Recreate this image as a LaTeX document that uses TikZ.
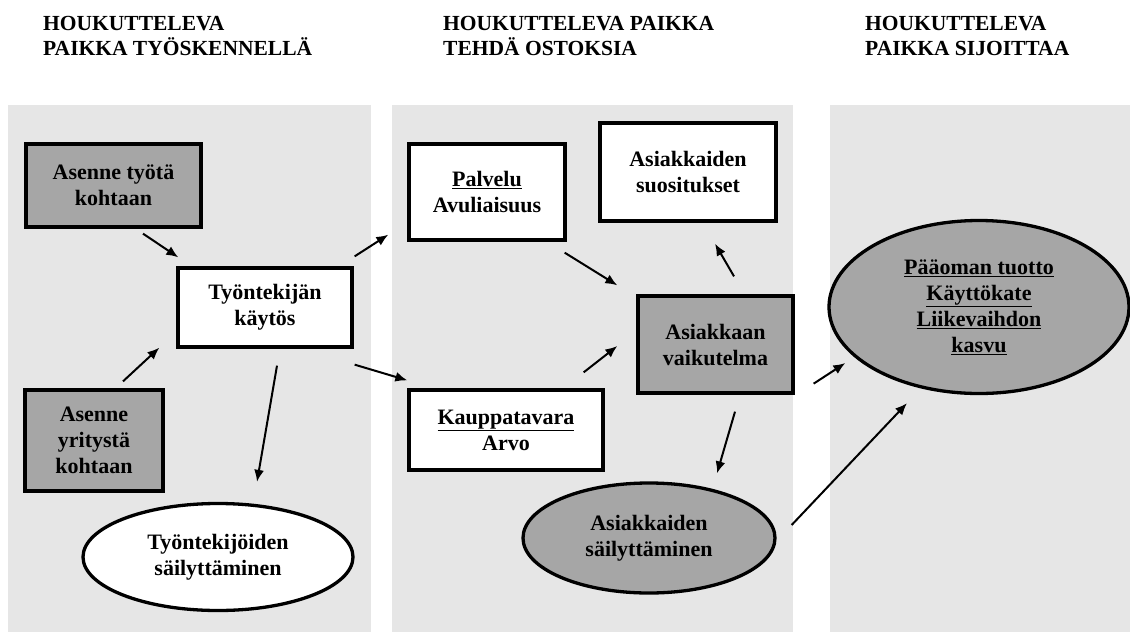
\documentclass[tikz,border=0pt]{standalone}
\usepackage{fontspec}
\setmainfont{Liberation Serif}
\usetikzlibrary{shapes.geometric,arrows.meta,calc}
\definecolor{panelgrey}{RGB}{230,230,230}
\definecolor{boxgrey}{RGB}{166,166,166}
\tikzset{
  panel/.style={fill=panelgrey, draw=none},
  heading/.style={anchor=base west, align=left, inner sep=0pt, font=\bfseries\fontsize{21.5}{25}\selectfont},
  whitebox/.style={draw=black, line width=3.3pt, fill=white, align=center, inner sep=0pt, font=\bfseries\fontsize{22}{26}\selectfont},
  greybox/.style={whitebox, fill=boxgrey},
  whiteoval/.style={whitebox, ellipse},
  greyoval/.style={greybox, ellipse},
  arr/.style={line width=2pt, -{Latex[length=12pt,width=10pt]}}
}
\begin{document}
\begin{tikzpicture}[x=1pt, y=-1pt]
\useasboundingbox (0,0) rectangle (1130,632);
\fill[white] (0,0) rectangle (1130,632);
% panels
\fill[panel] (8,105) rectangle (371,632);
\fill[panel] (392,105) rectangle (793,632);
\fill[panel] (830,105) rectangle (1130,632);
% headings
\node[heading] (h1) at (43,55) {HOUKUTTELEVA\\PAIKKA TYÖSKENNELLÄ};
\node[heading] (h2) at (443,55) {HOUKUTTELEVA PAIKKA\\TEHDÄ OSTOKSIA};
\node[heading] (h3) at (865,55) {HOUKUTTELEVA\\PAIKKA SIJOITTAA};
% nodes
\node[greybox, minimum width=175pt, minimum height=83pt] (a1) at (113.5,185.5) {Asenne työtä\\kohtaan};
\node[whitebox, minimum width=174pt, minimum height=79pt] (tk) at (265,307.5) {Työntekijän\\käytös};
\node[greybox, minimum width=138pt, minimum height=101pt] (a2) at (94,440.5) {Asenne\\yritystä\\kohtaan};
\node[whiteoval, minimum width=270pt, minimum height=107pt] (ts) at (218,557) {Työntekijöiden\\säilyttäminen};
\node[whitebox, minimum width=156pt, minimum height=96pt] (pa) at (487,192) {\underline{Palvelu}\\Avuliaisuus};
\node[whitebox, minimum width=176pt, minimum height=98pt] (su) at (688,172) {Asiakkaiden\\suositukset};
\node[greybox, minimum width=155pt, minimum height=97pt] (av) at (715.5,344.5) {Asiakkaan\\vaikutelma};
\node[whitebox, minimum width=194pt, minimum height=80pt] (ka) at (506,430) {\underline{Kauppatavara}\\Arvo};
\node[greyoval, minimum width=252pt, minimum height=110pt] (as) at (649,538) {Asiakkaiden\\säilyttäminen};
\node[greyoval, minimum width=300pt, minimum height=173pt] (po) at (979,307) {\underline{Pääoman tuotto}\\\underline{Käyttökate}\\\underline{Liikevaihdon}\\\underline{kasvu}};
% connectors
\draw[arr] ($(a1.south)+(29.5,5)$) -- ($(tk.north west)+(2,-9)$);
\draw[arr] ($(a2.north)+(29,-7)$) -- ($(tk.south west)+(-17,-1)$);
\draw[arr] ($(tk.south)+(12,17)$) -- ($(ts.north)+(39,-20)$);
\draw[arr] ($(tk.north east)+(1,-10)$) -- ($(pa.south west)+(-19,-7)$);
\draw[arr] ($(tk.south east)+(1,16)$) -- ($(ka.north west)+(0,-8)$);
\draw[arr] ($(pa.south east)+(-2,11)$) -- ($(av.north west)+(-19,-9)$);
\draw[arr] ($(ka.north east)+(-21,-16)$) -- ($(av.west)+(-19,1.5)$);
\draw[arr] ($(av.north)+(18.5,-18)$) -- ($(su.south)+(27,21)$);
\draw[arr] ($(av.south)+(19.5,17)$) -- ($(as.north)+(68,-8)$);
\draw[arr] ($(av.south east)+(19,-11)$) -- ($(po.west)+(18,56)$);
\draw[arr] ($(as.east)+(15,-13)$) -- ($(po.south)+(-72,8)$);
\end{tikzpicture}
\end{document}
